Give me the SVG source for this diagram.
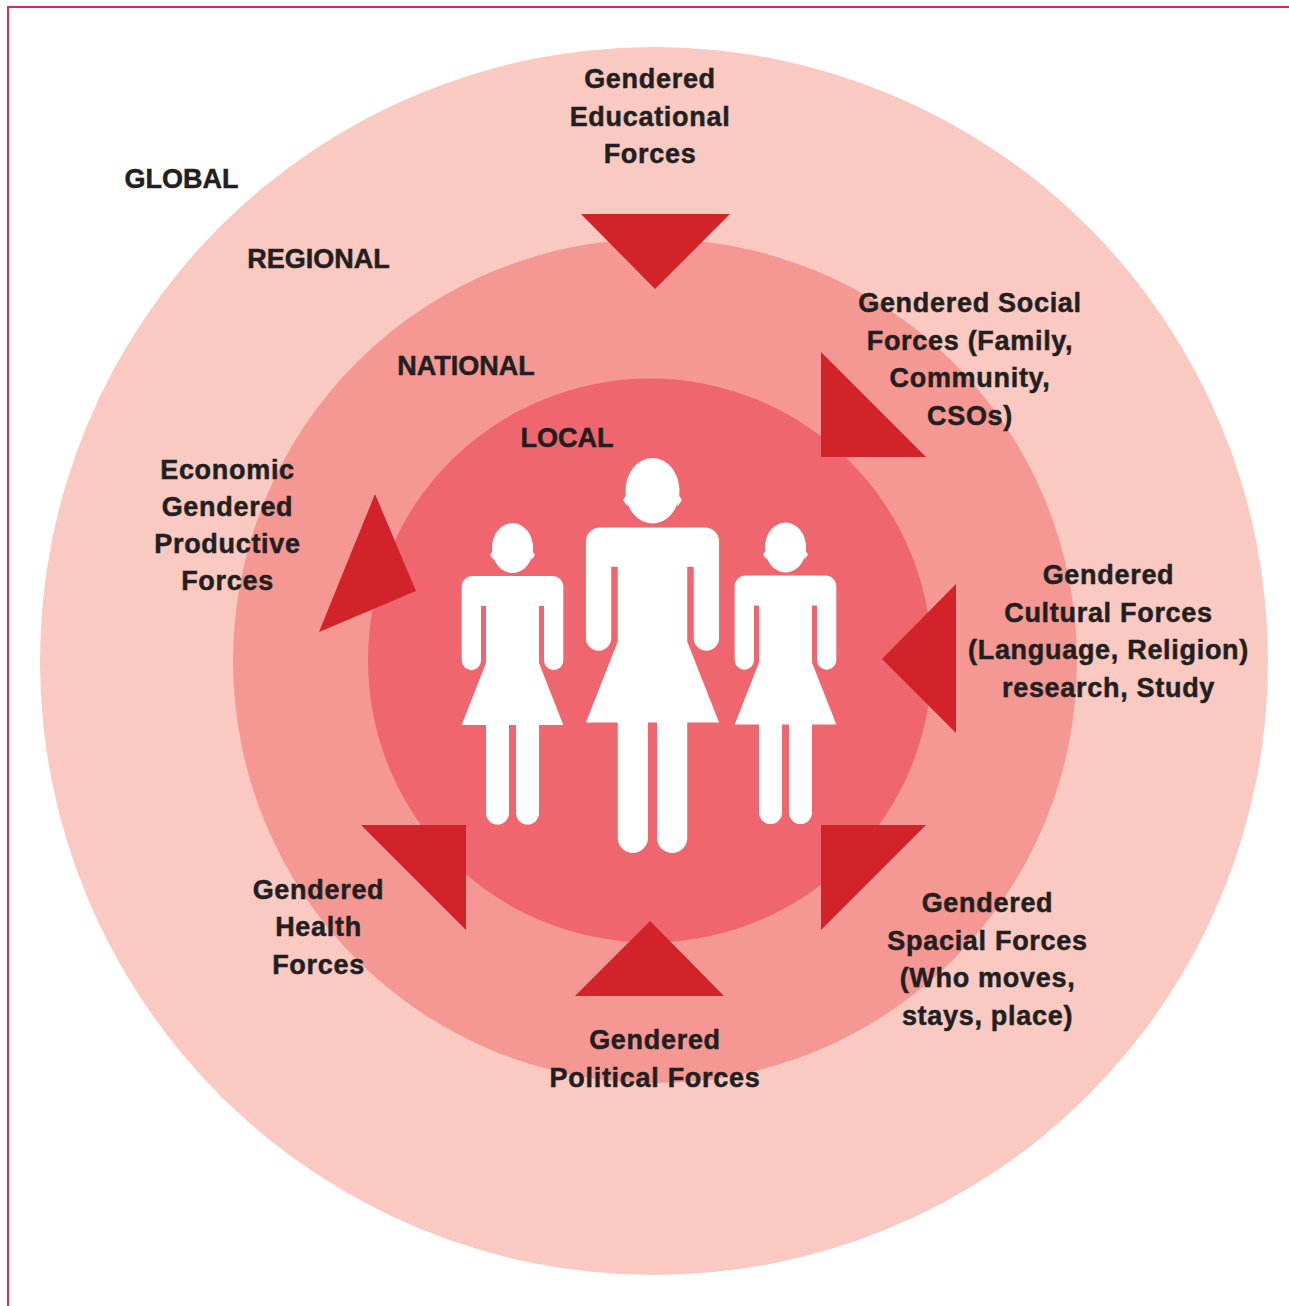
<svg xmlns="http://www.w3.org/2000/svg" xmlns:xlink="http://www.w3.org/1999/xlink" width="1289" height="1306" viewBox="0 0 1289 1306">
<style>
.lbl{font-family:"Liberation Sans",Arial,Helvetica,sans-serif;font-weight:bold;font-size:27px;fill:#231f20;stroke:#231f20;stroke-width:0.5px;text-anchor:middle;letter-spacing:0.7px}
.lvl{font-family:"Liberation Sans",Arial,Helvetica,sans-serif;font-weight:bold;font-size:27px;fill:#231f20;stroke:#231f20;stroke-width:0.5px;text-anchor:middle}
.tri{fill:#d2222a}
.fig{fill:#ffffff}
</style>
<defs>
<g id="person">
<ellipse cx="0" cy="25" rx="20.6" ry="25"/>
<polygon points="-22.5,32 -19,27 -19,37"/>
<polygon points="22.5,32 19,27 19,37"/>
<path d="M -40,53 H 40 A 10.8 10.8 0 0 1 50.8,63.8 V 137.5 A 9.65 9.65 0 0 1 31.5,137.5 V 83 H 26.5 V 140 L 50.8,202 H 26.5 V 290 A 11.5 11.5 0 0 1 3.5,290 V 202 H -3.5 V 290 A 11.5 11.5 0 0 1 -26.5,290 V 202 H -50.8 L -26.5,140 V 83 H -31.5 V 137.5 A 9.65 9.65 0 0 1 -50.8,137.5 V 63.8 A 10.8 10.8 0 0 1 -40,53 Z"/>
</g>
</defs>
<rect x="0" y="0" width="1289" height="1306" fill="#ffffff"/>
<rect x="8" y="7" width="1310" height="1320" fill="none" stroke="#e8234f" stroke-width="2"/>

<g id="global">
<circle cx="654" cy="661" r="614" fill="#f9c9c2"/>
<text class="lvl" x="181.5" y="188">GLOBAL</text>
</g>
<g id="regional">
<circle cx="655" cy="661" r="422" fill="#f59893"/>
<text class="lvl" x="318.5" y="268">REGIONAL</text>
</g>
<g id="national">
<circle cx="650" cy="660.5" r="282" fill="#f0666e"/>
<text class="lvl" x="466" y="375">NATIONAL</text>
</g>
<g id="local">
<text class="lvl" x="567" y="446.5">LOCAL</text>
<g class="fig">
<use xlink:href="#person" transform="translate(512.5,523)"/>
<use xlink:href="#person" transform="translate(652.5,458) scale(1.31)"/>
<use xlink:href="#person" transform="translate(785.5,522.5)"/>
</g>
</g>

<g id="connectors">
<polygon class="tri" points="581,214 730,214 655,289"/>
<polygon class="tri" points="821,352 821,457 926,457"/>
<polygon class="tri" points="956,584 956,733 882,659"/>
<polygon class="tri" points="821,825 926,825 821,930"/>
<polygon class="tri" points="575,996 724,996 650,921"/>
<polygon class="tri" points="361,825 466,825 466,930"/>
<polygon class="tri" points="375,494 416,591 319,632"/>
</g>

<g id="educational">
<text class="lbl" x="650" y="88">Gendered</text>
<text class="lbl" x="650" y="125.5">Educational</text>
<text class="lbl" x="650" y="163">Forces</text>
</g>
<g id="social">
<text class="lbl" x="970" y="312.3">Gendered Social</text>
<text class="lbl" x="970" y="349.8">Forces (Family,</text>
<text class="lbl" x="970" y="387.3">Community,</text>
<text class="lbl" x="970" y="424.8">CSOs)</text>
</g>
<g id="cultural">
<text class="lbl" x="1108.5" y="584">Gendered</text>
<text class="lbl" x="1108.5" y="621.5">Cultural Forces</text>
<text class="lbl" x="1108.5" y="659">(Language, Religion)</text>
<text class="lbl" x="1108.5" y="696.5">research, Study</text>
</g>
<g id="spacial">
<text class="lbl" x="987.5" y="912">Gendered</text>
<text class="lbl" x="987.5" y="949.5">Spacial Forces</text>
<text class="lbl" x="987.5" y="987">(Who moves,</text>
<text class="lbl" x="987.5" y="1024.5">stays, place)</text>
</g>
<g id="political">
<text class="lbl" x="655" y="1049">Gendered</text>
<text class="lbl" x="655" y="1086.5">Political Forces</text>
</g>
<g id="health">
<text class="lbl" x="318.5" y="898.5">Gendered</text>
<text class="lbl" x="318.5" y="936">Health</text>
<text class="lbl" x="318.5" y="973.5">Forces</text>
</g>
<g id="economic">
<text class="lbl" x="227.5" y="478.5">Economic</text>
<text class="lbl" x="227.5" y="515.5">Gendered</text>
<text class="lbl" x="227.5" y="552.5">Productive</text>
<text class="lbl" x="227.5" y="590">Forces</text>
</g>
</svg>
